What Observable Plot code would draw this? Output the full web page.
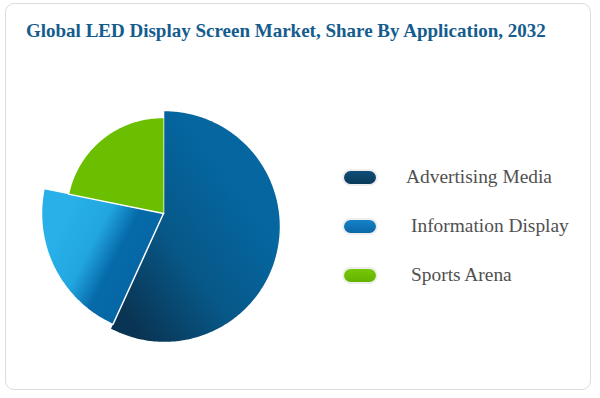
<!DOCTYPE html>
<html>
<head>
<meta charset="utf-8">
<script src="https://cdn.jsdelivr.net/npm/d3@7"></script>
<script src="https://cdn.jsdelivr.net/npm/@observablehq/plot@0.6"></script>
<style>
  html, body { margin: 0; padding: 0; background: #fff; }
  body { width: 600px; height: 398px; position: relative; overflow: hidden; font-family: "Liberation Serif", "Times New Roman", serif; }
  #card { position: absolute; left: 5px; top: 3px; width: 586px; height: 387px; border: 1px solid #dcdcdc; border-radius: 9px; box-sizing: border-box; }
  #title { position: absolute; left: 26px; top: 21px; margin: 0; font-size: 19px; line-height: 19px; font-weight: bold; color: #155c8e; white-space: nowrap; }
  #chart { position: absolute; left: 0; top: 55px; }
  #legend { position: absolute; left: 0; top: 0; }
  .sw { position: absolute; width: 32px; height: 13px; border-radius: 7px; box-shadow: 0 0 0 2px #eeeeee; }
  .lab { position: absolute; font-size: 19.4px; line-height: 19.4px; color: #505050; white-space: nowrap; }
</style>
</head>
<body>
<div id="card"></div>
<h2 id="title">Global LED Display Screen Market, Share By Application, 2032</h2>
<svg width="0" height="0" style="position:absolute">
  <defs>
    <linearGradient id="gAdv" x1="0.15" y1="0.95" x2="0.75" y2="0.35">
      <stop offset="0" stop-color="#0a3453"/>
      <stop offset="0.5" stop-color="#075888"/>
      <stop offset="1" stop-color="#0566a0"/>
    </linearGradient>
    <linearGradient id="gInfo" x1="0.15" y1="0.3" x2="0.85" y2="0.7">
      <stop offset="0" stop-color="#29b0e8"/>
      <stop offset="0.35" stop-color="#22a6e0"/>
      <stop offset="0.62" stop-color="#066aa9"/>
      <stop offset="1" stop-color="#0565a3"/>
    </linearGradient>
  </defs>
</svg>
<div id="chart"></div>
<div id="legend"></div>
<script>
// ---- data ----
const categories = ["Advertising Media", "Information Display", "Sports Arena"];
const shares = [56.8, 21.4, 21.8];

// ---- styling ----
const fills = ["url(#gAdv)", "url(#gInfo)", "#6bbf00"];
const swatchFills = [
  "linear-gradient(#0f4e78, #0a3a5a)",
  "linear-gradient(#1583c8, #0a68a8)",
  "linear-gradient(#76c808, #64b300)"
];
const W = 600, H = 343;
const vertex = [163, 158];
const shapes = [
  {cx: 164, cy: 171, r: 116},
  {cx: 163, cy: 158, r: 122},
  {cx: 162, cy: 158, r: 96}
];

const arcs = d3.pie().sort(null).value(d => d)(shares);

function rayHit(a, s) {
  const dx = Math.sin(a), dy = -Math.cos(a);
  const ox = vertex[0] - s.cx, oy = vertex[1] - s.cy;
  const b = dx * ox + dy * oy;
  const c = ox * ox + oy * oy - s.r * s.r;
  const t = -b + Math.sqrt(b * b - c);
  return [vertex[0] + t * dx, vertex[1] + t * dy];
}

const slices = arcs.map((arc, i) => {
  const pts = [{x: vertex[0], y: vertex[1], k: categories[i]}];
  const n = Math.max(2, Math.ceil((arc.endAngle - arc.startAngle) / (Math.PI / 180)));
  for (let j = 0; j <= n; j++) {
    const a = arc.startAngle + (arc.endAngle - arc.startAngle) * j / n;
    const [x, y] = rayHit(a, shapes[i]);
    pts.push({x, y, k: categories[i]});
  }
  return pts;
});

const chart = Plot.plot({
  width: W,
  height: H,
  margin: 0,
  x: {domain: [0, W], axis: null},
  y: {domain: [H, 0], axis: null},
  marks: slices.map((pts, i) =>
    Plot.line(pts, {x: "x", y: "y", fill: fills[i], stroke: "white", strokeWidth: 1.5, strokeLinejoin: "miter", curve: "linear"})
  )
});
document.getElementById("chart").append(chart);

// ---- legend ----
const legend = document.getElementById("legend");
const legendRows = [
  {top: 171, textLeft: 406},
  {top: 220, textLeft: 411},
  {top: 269, textLeft: 411}
];
categories.forEach((c, i) => {
  const sw = document.createElement("div");
  sw.className = "sw";
  sw.style.left = "344px";
  sw.style.top = legendRows[i].top + "px";
  sw.style.background = swatchFills[i];
  legend.append(sw);
  const lab = document.createElement("div");
  lab.className = "lab";
  lab.style.left = legendRows[i].textLeft + "px";
  lab.style.top = (legendRows[i].top - 4) + "px";
  lab.textContent = c;
  legend.append(lab);
});
</script>
</body>
</html>
